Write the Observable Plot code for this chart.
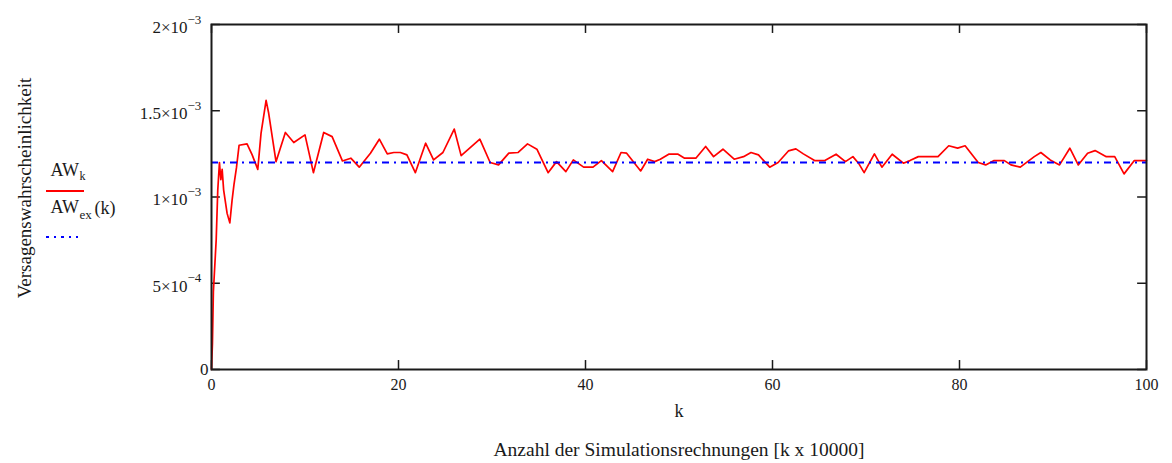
<!DOCTYPE html>
<html>
<head>
<meta charset="utf-8">
<script src="https://cdn.jsdelivr.net/npm/d3@7"></script>
<script src="https://cdn.jsdelivr.net/npm/@observablehq/plot@0.6"></script>
<style>
  html, body { margin: 0; padding: 0; background: #fff; }
  #chart svg { display: block; }
</style>
</head>
<body>
<div id="chart"></div>
<script>
// ---- data ----
const kValues = [0,0.1,0.2,0.5,0.67,0.85,1.0,1.14,1.3,1.67,1.96,2.2,2.4,2.67,2.95,3.8,4.35,4.95,5.3,5.84,6.1,6.9,7.9,8.8,10.0,10.9,12.0,12.9,14.0,14.9,15.8,17.0,17.95,18.8,19.5,20.2,20.9,21.8,22.9,23.75,24.75,25.96,26.7,28.7,29.8,30.7,31.8,32.8,33.8,34.8,36.0,36.9,37.9,38.7,39.8,40.8,41.7,42.9,43.8,44.4,45.9,46.65,47.4,48.0,48.9,49.9,50.6,51.8,52.85,53.7,54.7,55.9,56.9,57.7,58.5,59.7,60.6,61.7,62.5,63.3,64.5,65.6,66.8,67.8,68.6,69.2,69.8,70.9,71.7,72.8,74.0,74.7,75.6,77.7,78.85,79.8,80.6,82.0,82.8,83.7,84.8,85.5,86.5,88.0,88.7,89.7,90.7,91.8,92.7,93.7,94.5,95.7,96.6,97.6,98.7,100];
const awValues = [0,0.15,0.45,0.75,1.04,1.2,1.10,1.16,1.04,0.905,0.85,0.98,1.07,1.17,1.30,1.308,1.244,1.16,1.37,1.56,1.49,1.205,1.374,1.316,1.36,1.141,1.374,1.35,1.209,1.225,1.173,1.254,1.335,1.25,1.258,1.258,1.244,1.141,1.312,1.215,1.258,1.394,1.24,1.335,1.20,1.186,1.254,1.258,1.308,1.277,1.141,1.205,1.147,1.215,1.173,1.173,1.211,1.147,1.258,1.254,1.151,1.219,1.205,1.219,1.248,1.248,1.225,1.225,1.293,1.234,1.277,1.219,1.234,1.258,1.244,1.173,1.20,1.267,1.279,1.25,1.211,1.211,1.248,1.205,1.234,1.196,1.141,1.25,1.173,1.248,1.196,1.211,1.234,1.234,1.297,1.283,1.297,1.20,1.186,1.211,1.211,1.186,1.173,1.234,1.258,1.215,1.186,1.283,1.186,1.254,1.269,1.234,1.234,1.134,1.211,1.211].map(v => v * 1e-3);
const awExact = 1.2e-3;

const xTicks = [0, 20, 40, 60, 80, 100];
const yTicks = [0, 5e-4, 1e-3, 1.5e-3, 2e-3];
const yTickMantissa = ["0", "5×10", "1×10", "1.5×10", "2×10"];
const yTickExponent = ["", "−4", "−3", "−3", "−3"];

const yTitle = "Versagenswahrscheinlichkeit";
const xLabel = "k";
const caption = "Anzahl der Simulationsrechnungen [k x 10000]";

// ---- build table ----
const series = kValues.map((k, i) => ({k, v: awValues[i]}));
const yTickRows = yTicks.map((t, i) => ({t, m: yTickMantissa[i], e: yTickExponent[i]}));

const font = "'Liberation Serif', 'Times New Roman', serif";
const ink = "#1a1a1a";
const tickLenX = 0.95;      // in k units
const tickLenY = 5.2e-5;    // in probability units

const legendSwatches = () => {
  const g = d3.create("svg:g");
  g.append("line").attr("x1", 46).attr("x2", 84).attr("y1", 191).attr("y2", 191)
    .attr("stroke", "#ff0000").attr("stroke-width", 2);
  g.append("line").attr("x1", 46).attr("x2", 78).attr("y1", 237).attr("y2", 237)
    .attr("stroke", "#0000ff").attr("stroke-width", 2).attr("stroke-dasharray", "3,5,2,5");
  return g.node();
};

const T = (data, opts) => Plot.text(data, {lineAnchor: "middle", fill: ink, ...opts});

const chart = Plot.plot({
  width: 1172,
  height: 463,
  marginLeft: 211,
  marginRight: 26,
  marginTop: 24,
  marginBottom: 94,
  style: {fontFamily: font, fontSize: "16px", color: ink, background: "#fff"},
  x: {domain: [0, 100], axis: null},
  y: {domain: [0, 2e-3], axis: null},
  marks: [
    // inward ticks on all four sides
    Plot.ruleY(yTicks, {y: d => d, x1: () => 0, x2: () => tickLenX, stroke: ink, strokeWidth: 1.5}),
    Plot.ruleY(yTicks, {y: d => d, x1: () => 100, x2: () => 100 - tickLenX, stroke: ink, strokeWidth: 1.5}),
    Plot.ruleX(xTicks, {x: d => d, y1: () => 0, y2: () => tickLenY, stroke: ink, strokeWidth: 1.5}),
    Plot.ruleX(xTicks, {x: d => d, y1: () => 2e-3, y2: () => 2e-3 - tickLenY, stroke: ink, strokeWidth: 1.5}),
    // series
    Plot.line(series, {x: "k", y: "v", stroke: "#ff0000", strokeWidth: 1.7}),
    Plot.ruleY([awExact], {stroke: "#0000ff", strokeWidth: 2, strokeDasharray: "7,5,2,5"}),
    Plot.frame({stroke: ink, strokeWidth: 2}),
    // y tick labels
    T(yTickRows.filter(d => d.e), {x: () => 0, y: "t", text: "m", textAnchor: "end", dx: -24, dy: 3, fontSize: 17}),
    T(yTickRows.filter(d => d.e), {x: () => 0, y: "t", text: "e", textAnchor: "start", dx: -24, dy: -5, fontSize: 13}),
    T(yTickRows.filter(d => !d.e), {x: () => 0, y: "t", text: "m", textAnchor: "end", dx: -3, dy: 0, fontSize: 17}),
    // x tick labels
    T(xTicks, {x: d => d, y: () => 0, text: d => String(d), dy: 15, fontSize: 16}),
    // axis titles
    T([xLabel], {frameAnchor: "bottom", textAnchor: "middle", dy: 42, fontSize: 18}),
    T([caption], {frameAnchor: "bottom", textAnchor: "middle", dy: 80, fontSize: 19.5}),
    T([yTitle], {frameAnchor: "left", textAnchor: "middle", dx: -187, dy: -9, rotate: -90, fontSize: 19}),
    // legend
    T(["AW"], {frameAnchor: "top-left", textAnchor: "start", dx: -161, dy: 146, fontSize: 18}),
    T(["k"], {frameAnchor: "top-left", textAnchor: "start", dx: -132, dy: 152, fontSize: 12}),
    T(["AW"], {frameAnchor: "top-left", textAnchor: "start", dx: -161, dy: 183, fontSize: 18}),
    T(["ex"], {frameAnchor: "top-left", textAnchor: "start", dx: -132, dy: 190, fontSize: 13}),
    T(["(k)"], {frameAnchor: "top-left", textAnchor: "start", dx: -117, dy: 184, fontSize: 18}),
    legendSwatches
  ]
});
document.getElementById("chart").appendChild(chart);
</script>
</body>
</html>
